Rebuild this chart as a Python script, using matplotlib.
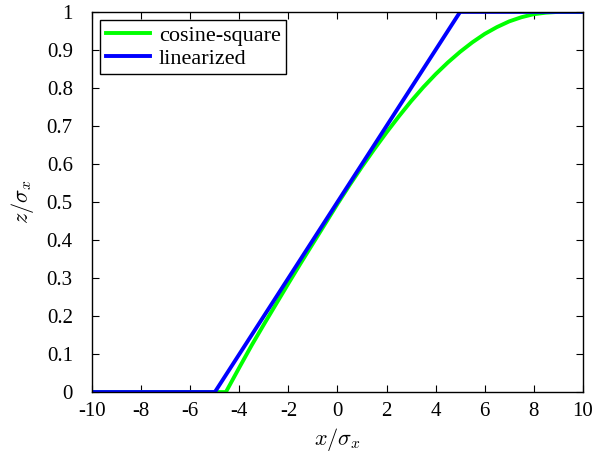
import matplotlib
matplotlib.use('Agg')
import matplotlib.pyplot as plt

matplotlib.rcParams['font.family'] = 'Liberation Serif'
matplotlib.rcParams['mathtext.fontset'] = 'cm'
matplotlib.rcParams['axes.unicode_minus'] = False

# cosine-square profile
x_cos = [-10, -4.55, -4, -3.5, -3, -2.5, -2, -1.5, -1, -0.5, 0, 0.5, 1, 1.5, 2, 2.5,
         3, 3.5, 4, 4.5, 5, 5.5, 6, 6.5, 7, 7.5, 8, 8.5, 9, 10]
z_cos = [0, 0, 0.065, 0.123, 0.178, 0.232, 0.286, 0.339, 0.391, 0.443, 0.495, 0.545,
         0.593, 0.639, 0.683, 0.725, 0.765, 0.802, 0.836, 0.867, 0.895, 0.920,
         0.942, 0.960, 0.975, 0.986, 0.994, 0.998, 1, 1]

# linearized profile
x_lin = [-10, -5, 5, 10]
z_lin = [0, 0, 1, 1]

labels = ['cosine-square', 'linearized']

fig = plt.figure(figsize=(6.07, 4.58), dpi=100)
ax = fig.add_axes([0.152, 0.144, 0.808, 0.830])

ax.plot(x_cos, z_cos, color='#00ff00', linewidth=2.8, label=labels[0])
ax.plot(x_lin, z_lin, color='#0000ff', linewidth=2.8, label=labels[1])

ax.set_xlim(-10, 10)
ax.set_ylim(0, 1)
ax.set_xticks(range(-10, 11, 2))
ax.set_yticks([i / 10 for i in range(11)])
ax.set_yticklabels(['0', '0.1', '0.2', '0.3', '0.4', '0.5', '0.6', '0.7', '0.8', '0.9', '1'])
ax.tick_params(direction='in', top=True, right=True, labelsize=15, length=5, width=0.8)
ax.tick_params(axis='x', pad=7)
ax.tick_params(axis='y', pad=14)
for s in ax.spines.values():
    s.set_linewidth(1.0)

ax.set_xlabel(r'$x/\sigma_x$', fontsize=16, labelpad=4)
ax.set_ylabel(r'$z/\sigma_x$', fontsize=16, labelpad=8)

leg = ax.legend(loc='upper left', fontsize=16, fancybox=False, framealpha=1,
                edgecolor='black', borderaxespad=0.35, handlelength=2.0,
                borderpad=0.25, labelspacing=0.1, handletextpad=0.4)
leg.get_frame().set_linewidth(1.0)

fig.savefig('out.png', dpi=100)
